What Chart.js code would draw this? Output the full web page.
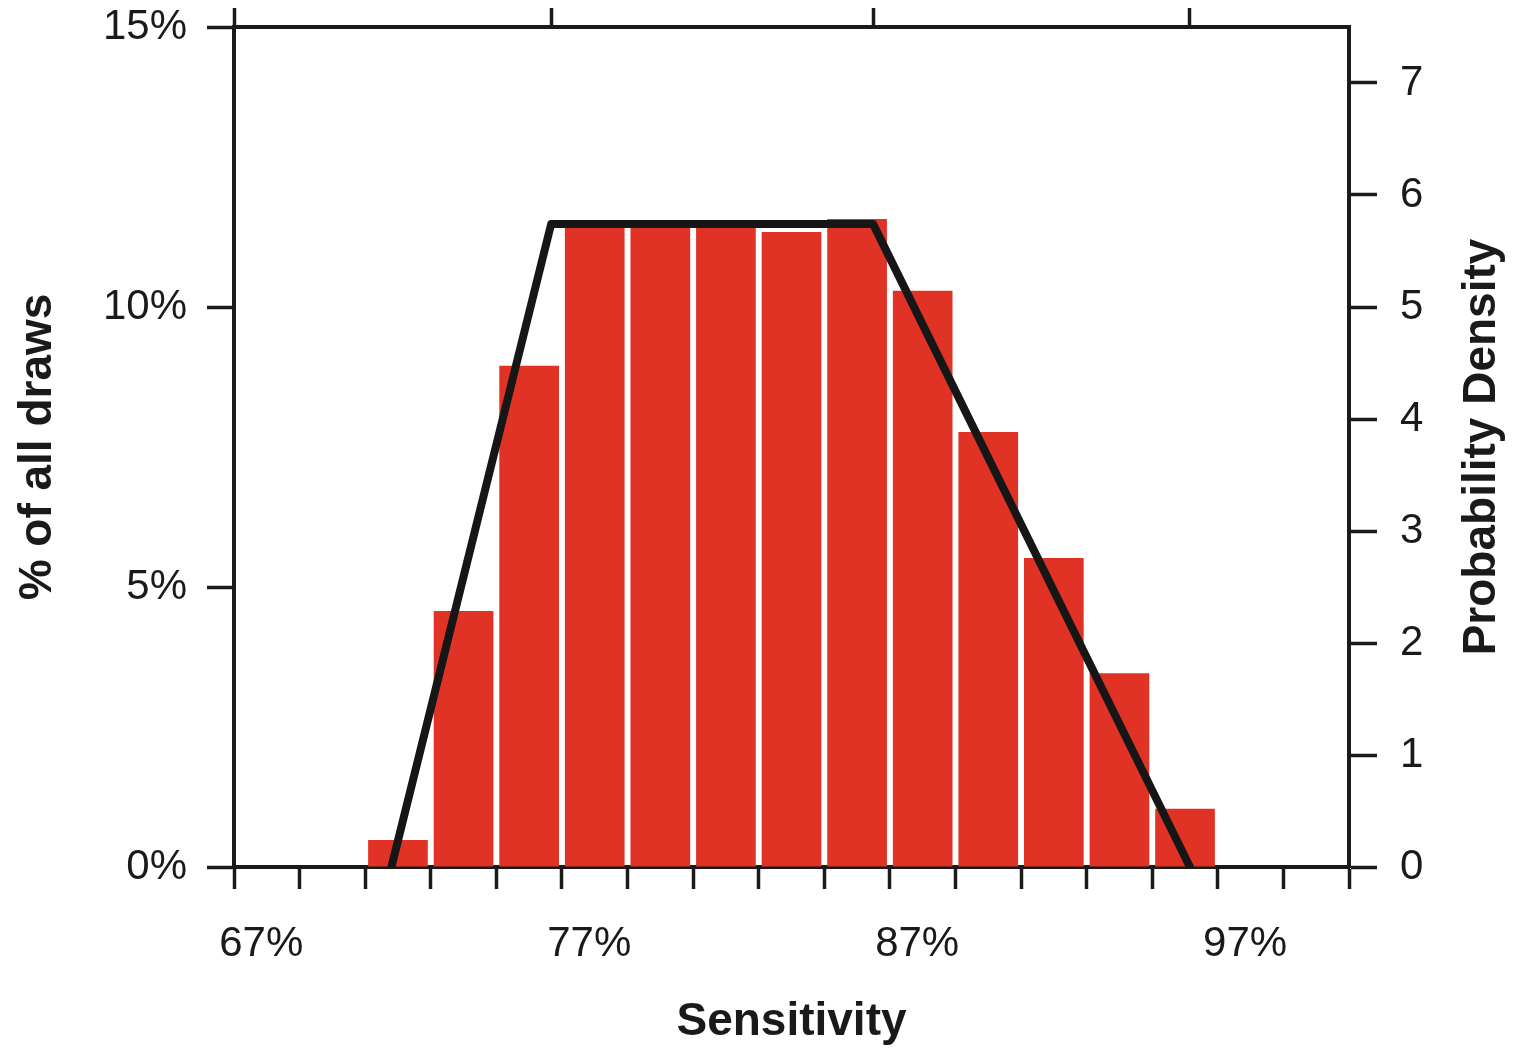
<!DOCTYPE html>
<html lang="en">
<head>
<meta charset="UTF-8">
<title>Sensitivity</title>
<script src="https://cdn.jsdelivr.net/npm/chart.js"></script>
<style>
    html, body { margin: 0; padding: 0; background: #fff; }
    .chart-container { position: relative; width: 1524px; height: 1056px; }
</style>
</head>
<body>
<div class="chart-container"><canvas id="sensitivityChart"></canvas></div>
<script>
    // Histogram: bin centres (% sensitivity) and share of draws per bin
    const binCentres = [71, 73, 75, 77, 79, 81, 83, 85, 87, 89, 91, 93, 95];
    const pctOfDraws = [0.48, 4.57, 8.95, 11.45, 11.45, 11.45, 11.34, 11.57, 10.29, 7.77, 5.52, 3.46, 1.04];

    // Trapezoidal prior density
    const priorX = [70.8, 75.67, 85.49, 95.15];
    const priorDensity = [0, 5.74, 5.74, 0];

    // Axis ticks
    const xLabelValues = [67, 77, 87, 97];
    const topTickValues = [66, 75.67, 85.49, 95.15];
    const pctTicks = [0, 5, 10, 15];
    const densityTicks = [0, 1, 2, 3, 4, 5, 6, 7];

    const X_MIN = 66, X_MAX = 100;
    const AXIS = '#1a1a1a';
    const FONT = "'Liberation Sans', Arial, Helvetica, sans-serif";
    const tickFont = { family: FONT, size: 42 };
    const titleFont = { family: FONT, size: 46, weight: 'bold' };

    // right-hand title reads bottom-to-top, which Chart.js doesn't do for right axes
    const rightTitle = {
        id: 'rightTitle',
        afterDraw(chart) {
            const s = chart.scales.y2;
            const ctx = chart.ctx;
            ctx.save();
            ctx.translate(s.right - 42, (s.top + s.bottom) / 2);
            ctx.rotate(-Math.PI / 2);
            ctx.font = 'bold 46px ' + FONT;
            ctx.fillStyle = AXIS;
            ctx.textAlign = 'center';
            ctx.textBaseline = 'middle';
            ctx.fillText('Probability Density', 0, 0);
            ctx.restore();
        }
    };

    // shared settings for the tick-mark-only axes
    function tickGrid(len) {
        return { offset: false, drawOnChartArea: false, drawTicks: true, tickLength: len, tickWidth: 3.5, tickColor: AXIS };
    }
    const frame = { display: true, color: AXIS, width: 4 };

    // fixed box width for the vertical axes; the end labels may overhang the frame
    function fixWidth(w) {
        return s => { s.width = w; s.paddingTop = 0; s.paddingBottom = 0; };
    }

    const ctx = document.getElementById('sensitivityChart').getContext('2d');
    new Chart(ctx, {
        type: 'bar',
        data: {
            datasets: [{
                type: 'line',
                order: 0,
                xAxisID: 'x',
                yAxisID: 'y2',
                data: priorX.map((x, i) => ({ x, y: priorDensity[i] })),
                borderColor: '#161616',
                borderWidth: 8,
                borderJoinStyle: 'round',
                borderCapStyle: 'round',
                pointRadius: 0,
                tension: 0,
                fill: false
            }, {
                type: 'bar',
                order: 1,
                xAxisID: 'x',
                yAxisID: 'y',
                data: binCentres.map((x, i) => ({ x, y: pctOfDraws[i] })),
                backgroundColor: '#e03326',
                borderWidth: 0,
                barPercentage: 0.91,
                categoryPercentage: 1
            }]
        },
        options: {
            responsive: true,
            maintainAspectRatio: false,
            animation: false,
            layout: { padding: 0 },
            plugins: { legend: { display: false }, tooltip: { enabled: false } },
            scales: {
                // bottom frame line with a tick every 2 points
                x: {
                    type: 'linear',
                    position: 'bottom',
                    weight: 0,
                    min: X_MIN,
                    max: X_MAX,
                    offset: false,
                    afterFit: s => { s.height = 22; },
                    border: frame,
                    grid: tickGrid(22),
                    ticks: { stepSize: 2, display: false }
                },
                // percentage labels underneath
                xLabels: {
                    type: 'linear',
                    position: 'bottom',
                    weight: 1,
                    min: X_MIN,
                    max: X_MAX,
                    offset: false,
                    afterFit: s => { s.height = 167; },
                    afterBuildTicks: s => { s.ticks = xLabelValues.map(v => ({ value: v })); },
                    border: { display: false },
                    grid: { offset: false, drawOnChartArea: false, drawTicks: false },
                    ticks: {
                        autoSkip: false,
                        maxRotation: 0,
                        padding: 30,
                        labelOffset: -5.5,
                        color: AXIS,
                        font: tickFont,
                        callback: v => v + '%'
                    },
                    title: {
                        display: true,
                        text: 'Sensitivity',
                        color: AXIS,
                        font: titleFont,
                        padding: { top: 0, bottom: 6 }
                    }
                },
                xTop: {
                    type: 'linear',
                    position: 'top',
                    min: X_MIN,
                    max: X_MAX,
                    offset: false,
                    afterFit: s => { s.height = 27; },
                    afterBuildTicks: s => { s.ticks = topTickValues.map(v => ({ value: v })); },
                    border: frame,
                    grid: tickGrid(19),
                    ticks: { display: false }
                },
                y: {
                    type: 'linear',
                    position: 'left',
                    min: 0,
                    max: 15,
                    afterFit: fixWidth(234),
                    afterBuildTicks: s => { s.ticks = pctTicks.map(v => ({ value: v })); },
                    border: frame,
                    grid: tickGrid(27),
                    ticks: {
                        padding: 20,
                        color: AXIS,
                        font: tickFont,
                        callback: v => v + '%'
                    },
                    title: {
                        display: true,
                        text: '% of all draws',
                        color: AXIS,
                        font: titleFont,
                        padding: { top: 11, bottom: 0 }
                    }
                },
                y2: {
                    type: 'linear',
                    position: 'right',
                    min: 0,
                    max: 7.5,
                    afterFit: fixWidth(175),
                    afterBuildTicks: s => { s.ticks = densityTicks.map(v => ({ value: v })); },
                    border: frame,
                    grid: tickGrid(28),
                    ticks: {
                        padding: 23,
                        color: AXIS,
                        font: tickFont
                    }
                }
            }
        },
        plugins: [rightTitle]
    });
</script>
</body>
</html>
